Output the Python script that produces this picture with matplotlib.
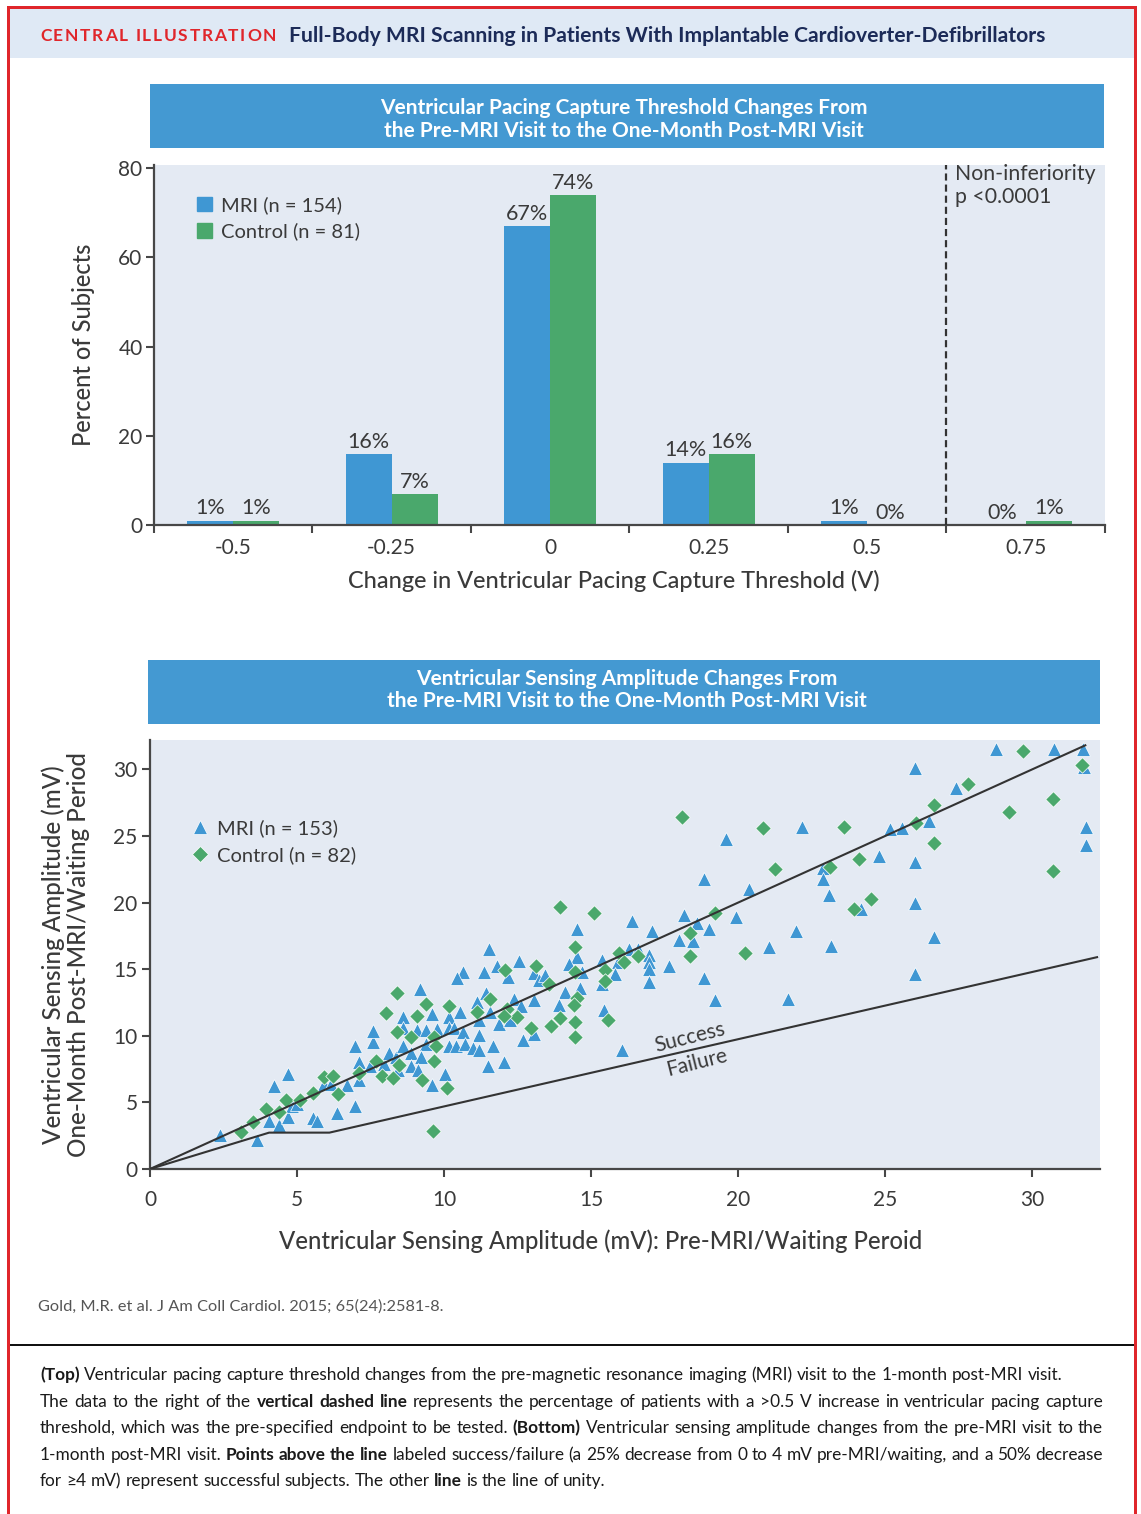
import matplotlib
matplotlib.use("Agg")
import matplotlib.pyplot as plt
import numpy as np
from matplotlib.patches import Rectangle, Patch
from matplotlib.lines import Line2D

plt.rcParams['font.family'] = ['Lato', 'DejaVu Sans']

# ---- data: pacing capture threshold change (percent of subjects)
thr_cats = ['-0.5', '-0.25', '0', '0.25', '0.5', '0.75']
mri_pct = [1, 16, 67, 14, 1, 0]
ctrl_pct = [1, 7, 74, 16, 0, 1]

# ---- data: sensing amplitude (mV), pre-MRI vs one-month post
mri_pre = [2.38, 3.65, 4.06, 4.4, 4.22, 4.7, 4.7, 4.82, 5.0, 5.53, 5.69, 6.37, 6.98, 6.69, 5.92,
           6.14, 7.09, 7.1, 6.98, 7.57, 7.57, 7.48, 7.94, 8.14, 8.37, 8.44, 11.54, 12.56, 11.79,
           11.36, 10.64, 10.43, 12.18, 13.04, 9.18, 11.42, 11.11, 12.36, 12.62, 13.06, 10.54, 9.58,
           8.59, 10.18, 11.56, 11.2, 11.85, 12.24, 8.59, 9.09, 9.39, 9.77, 10.15, 10.35, 10.64,
           11.2, 13.04, 12.67, 8.59, 9.39, 10.18, 10.41, 10.71, 10.98, 11.2, 11.65, 8.88, 9.2,
           8.88, 9.1, 11.48, 12.02, 10.03, 9.58, 14.51, 16.4, 17.06, 17.97, 14.51, 14.23, 15.36,
           15.9, 16.3, 16.6, 16.98, 16.98, 16.98, 16.98, 17.63, 13.21, 13.44, 14.68, 15.82, 15.36,
           14.63, 14.12, 13.92, 15.42, 16.04, 22.16, 19.6, 18.82, 20.35, 18.17, 18.6, 19.92, 19.02,
           18.45, 21.97, 21.05, 18.82, 19.22, 21.68, 28.76, 30.75, 31.72, 31.77, 26.02, 27.41,
           26.5, 25.57, 25.17, 31.81, 31.81, 24.77, 26.02, 22.87, 22.87, 23.1, 24.18, 26.02,
           26.64, 23.15, 26.02]
mri_post = [2.55, 2.15, 3.6, 3.3, 6.25, 7.1, 3.9, 4.7, 4.9, 3.8, 3.6, 4.2, 4.7, 6.3, 6.4,
            6.4, 6.7, 8.0, 9.2, 9.55, 10.35, 7.7, 7.9, 8.7, 8.4, 7.4, 16.5, 15.6, 15.2,
            14.75, 14.75, 14.35, 14.4, 14.7, 13.5, 13.2, 12.5, 12.75, 12.2, 12.7, 11.8, 11.6,
            11.4, 11.4, 11.8, 11.2, 10.9, 11.2, 10.6, 10.4, 10.4, 10.5, 10.55, 10.55, 10.3,
            10.05, 10.1, 9.7, 9.2, 9.4, 9.2, 9.2, 9.4, 9.1, 8.9, 9.2, 8.7, 8.4,
            7.7, 7.4, 7.75, 8.0, 7.1, 6.3, 18.0, 18.6, 17.9, 17.2, 15.9, 15.4, 15.7,
            15.55, 16.55, 16.55, 16.05, 15.55, 15.0, 14.0, 15.2, 14.2, 14.55, 14.75, 14.6, 13.9,
            13.55, 13.3, 12.3, 11.9, 8.9, 25.7, 24.8, 21.8, 21.0, 19.05, 18.5, 18.9, 18.0,
            17.15, 17.9, 16.7, 14.3, 12.7, 12.75, 31.5, 31.5, 31.5, 30.15, 30.1, 28.6,
            26.1, 25.6, 25.5, 25.7, 24.35, 23.5, 23.05, 22.6, 21.8, 20.55, 19.5, 20.0,
            17.4, 16.75, 14.6]
ctrl_pre = [3.09, 3.51, 3.95, 4.38, 4.63, 5.1, 5.53, 6.38, 5.9, 6.21, 7.1, 7.88, 8.25, 7.7,
            8.03, 8.39, 8.39, 9.38, 9.09, 10.17, 8.88, 9.66, 9.72, 11.11, 11.56, 12.07, 12.13,
            12.47, 12.02, 12.94, 13.13, 8.45, 9.66, 9.24, 10.11, 9.63, 13.95, 15.08, 14.46, 15.93,
            16.1, 16.6, 14.46, 15.48, 15.48, 13.55, 14.51, 14.4, 13.95, 13.64, 14.46, 14.46, 15.57,
            18.1, 20.84, 21.26, 19.22, 18.37, 18.37, 20.24, 29.67, 31.68, 27.81, 30.7, 29.22,
            26.67, 26.03, 26.67, 24.1, 30.7, 23.6, 23.13, 24.52, 23.92]
ctrl_post = [2.75, 3.55, 4.5, 4.3, 5.2, 5.2, 5.7, 5.6, 6.9, 7.0, 7.2, 7.0, 6.8, 8.1,
             11.7, 10.3, 13.2, 12.4, 11.5, 12.2, 9.9, 9.9, 9.2, 11.8, 12.75, 14.9, 12.0,
             11.4, 11.45, 10.55, 15.2, 7.8, 8.1, 6.65, 6.1, 2.85, 19.7, 19.25, 16.7, 16.2,
             15.55, 16.0, 14.8, 14.9, 14.1, 13.9, 12.8, 12.3, 11.3, 10.75, 11.05, 9.9, 11.2,
             26.4, 25.6, 22.5, 19.25, 17.75, 16.0, 16.2, 31.4, 30.3, 28.9, 27.8, 26.8,
             27.35, 26.0, 24.45, 23.25, 22.4, 25.65, 22.7, 20.3, 19.5]

# reference lines
unity_x = [0, 31.8]
unity_y = [0, 31.8]
fail_x = [0, 4.05, 6.1, 32.2]
fail_y = [0, 2.73, 2.73, 15.9]

BLUE = '#3f97d3'
GREEN = '#4aa86c'
BANNER = '#4499d2'
PANEL = '#e4eaf3'
SPINE = '#474747'
TXT = '#3a3a3a'

W, H = 1141, 1514
fig = plt.figure(figsize=(W / 100, H / 100), dpi=100)
rend = fig.canvas.get_renderer()


def box(x0, y0, x1, y1):
    return [x0 / W, 1 - y1 / H, (x1 - x0) / W, (y1 - y0) / H]


def rect(x0, y0, x1, y1, color, z=0):
    fig.add_artist(Rectangle((x0 / W, 1 - y1 / H), (x1 - x0) / W, (y1 - y0) / H,
                             transform=fig.transFigure, color=color, zorder=z, lw=0))


def width_of(t):
    return t.get_window_extent(rend).width


def spread(pieces, x0, x1, yc, size, color, min_gap=0.0):
    # pieces: list of (text, bold); spread them so they fill x0..x1 (pixels)
    objs = [fig.text(0, 1 - yc / H, p, fontsize=size, color=color, ha='left', va='center',
                     fontweight='bold' if b else 'normal') for p, b in pieces]
    ws = [width_of(t) for t in objs]
    gap = (x1 - x0 - sum(ws)) / max(len(ws) - 1, 1)
    gap = max(gap, min_gap)
    x = x0
    for t, w in zip(objs, ws):
        t.set_x(x / W)
        x += w + gap


# frame and header
rect(10, 9, 1134, 58, '#dfe9f5')
rect(7, 6, 10, H, '#e0262b', 5)
rect(1134, 6, 1137, H, '#e0262b', 5)
rect(7, 6, 1137, 9, '#e0262b', 5)
rect(10, 1344, 1134, 1346, '#111111', 5)
spread([(c, True) for c in 'CENTRAL ILLUSTRATION'], 40, 276, 36, 12.5, '#e0262b')
fig.text(289 / W, 1 - 36 / H,
         'Full-Body MRI Scanning in Patients With Implantable Cardioverter-Defibrillators',
         color='#1c2b58', fontsize=15.2, fontweight='bold', va='center', ha='left')

# banners
rect(150, 84, 1104, 148, BANNER)
fig.text(624 / W, 1 - 119.5 / H,
         'Ventricular Pacing Capture Threshold Changes From\nthe Pre-MRI Visit to the One-Month Post-MRI Visit',
         color='white', fontsize=15, fontweight='bold', ha='center', va='center', linespacing=1.17)
rect(148, 660, 1100, 724, BANNER)
fig.text(627 / W, 1 - 690 / H,
         'Ventricular Sensing Amplitude Changes From\nthe Pre-MRI Visit to the One-Month Post-MRI Visit',
         color='white', fontsize=15, fontweight='bold', ha='center', va='center', linespacing=1.17)


def style_axes(ax):
    ax.set_facecolor(PANEL)
    for s in ['top', 'right']:
        ax.spines[s].set_visible(False)
    for s in ['left', 'bottom']:
        ax.spines[s].set_color(SPINE)
        ax.spines[s].set_linewidth(1.6)
    ax.tick_params(which='major', direction='out', length=6, width=1.5, color=SPINE,
                   labelsize=15, labelcolor=TXT)


# ---- top: bar chart
ax1 = fig.add_axes(box(153.7, 165, 1105, 525))
style_axes(ax1)
xi = np.arange(len(thr_cats))
bw = 0.29
b1 = ax1.bar(xi - bw / 2, mri_pct, bw, color=BLUE, zorder=2)
b2 = ax1.bar(xi + bw / 2, ctrl_pct, bw, color=GREEN, zorder=2)
for bars, vals in [(b1, mri_pct), (b2, ctrl_pct)]:
    for r, v in zip(bars, vals):
        ax1.annotate(f'{v}%', (r.get_x() + r.get_width() / 2, v), xytext=(0, 1.5),
                     textcoords='offset points', ha='center', va='bottom', fontsize=15.5, color=TXT)
ax1.set_xlim(-0.5, 5.5)
ax1.set_ylim(0, 80.7)
ax1.set_yticks([0, 20, 40, 60, 80])
ax1.tick_params(axis='y', pad=2)
ax1.set_xticks(np.arange(-0.5, 6, 1))
ax1.set_xticklabels([])
ax1.set_xticks(xi, minor=True)
ax1.set_xticklabels(thr_cats, minor=True)
ax1.tick_params(axis='x', which='minor', length=0, pad=9, labelsize=15, labelcolor=TXT)
ax1.axvline(4.5, color='#333333', lw=1.6, ls=(0, (3.2, 1.8)), zorder=3)
ax1.text(4.555, 80.9, 'Non-inferiority\np <0.0001', ha='left', va='top', fontsize=15.3,
         color=TXT, linespacing=1.15)
ax1.text(-0.074, 0.5, 'Percent of Subjects', transform=ax1.transAxes, rotation=90,
         ha='center', va='center', fontsize=17, fontweight='medium', color=TXT)
ax1.text(0.484, -0.156, 'Change in Ventricular Pacing Capture Threshold (V)',
         transform=ax1.transAxes, ha='center', va='center', fontsize=16.9,
         fontweight='medium', color=TXT)
ax1.legend(handles=[Patch(color=BLUE, label='MRI (n = 154)'),
                    Patch(color=GREEN, label='Control (n = 81)')],
           loc='upper left', bbox_to_anchor=(0.046, 0.913), frameon=False, fontsize=14.5,
           handlelength=0.7, handleheight=0.7, handletextpad=0.45, labelspacing=0.42,
           borderaxespad=0, borderpad=0, labelcolor=TXT)

# ---- bottom: scatter
ax2 = fig.add_axes(box(150, 740, 1100, 1169))
style_axes(ax2)
ax2.scatter(mri_pre, mri_post, marker='^', s=100, c=BLUE, edgecolors='white', linewidths=0.5,
            zorder=2)
ax2.scatter(ctrl_pre, ctrl_post, marker='D', s=62, c=GREEN, edgecolors='white', linewidths=0.5,
            zorder=2)
ax2.plot(unity_x, unity_y, color='#333333', lw=1.5, zorder=3)
ax2.plot(fail_x, fail_y, color='#333333', lw=1.5, zorder=3)
ax2.set_xlim(0, 32.3)
ax2.set_ylim(0, 32.2)
ax2.set_xticks([0, 5, 10, 15, 20, 25, 30])
ax2.set_yticks([0, 5, 10, 15, 20, 25, 30])
ax2.tick_params(axis='x', pad=9)
ax2.tick_params(axis='y', pad=3)
ax2.text(18.37, 9.85, 'Success', rotation=14, rotation_mode='anchor', ha='center',
         va='center', fontsize=15, color=TXT)
ax2.text(18.6, 7.95, 'Failure', rotation=14, rotation_mode='anchor', ha='center',
         va='center', fontsize=15, color=TXT)
ax2.text(-0.0884, 0.5, 'Ventricular Sensing Amplitude (mV)\nOne-Month Post-MRI/Waiting Period',
         transform=ax2.transAxes, rotation=90, ha='center', va='center', fontsize=17.4,
         fontweight='medium', color=TXT, linespacing=1.1)
ax2.text(0.474, -0.168, 'Ventricular Sensing Amplitude (mV): Pre-MRI/Waiting Peroid',
         transform=ax2.transAxes, ha='center', va='center', fontsize=17.2,
         fontweight='medium', color=TXT)
ax2.legend(handles=[Line2D([], [], ls='none', marker='^', ms=10, mfc=BLUE, mec='white',
                           mew=0.5, label='MRI (n = 153)'),
                    Line2D([], [], ls='none', marker='D', ms=7.9, mfc=GREEN, mec='white',
                           mew=0.5, label='Control (n = 82)')],
           loc='upper left', bbox_to_anchor=(0.042, 0.815), frameon=False, fontsize=14.5,
           handlelength=1.0, handletextpad=0.35, labelspacing=0.45, borderaxespad=0,
           borderpad=0, labelcolor=TXT)

# ---- citation and caption
fig.text(38 / W, 1 - 1307 / H, 'Gold, M.R. et al. J Am Coll Cardiol. 2015; 65(24):2581-8.',
         fontsize=11.8, color='#555555', ha='left', va='center')

cap_lines = [
    ([("(Top)", True),
      ("Ventricular pacing capture threshold changes from the pre-magnetic resonance imaging (MRI) visit to the 1-month post-MRI visit.", False)], False),
    ([("The data to the right of the", False), ("vertical dashed line", True),
      ("represents the percentage of patients with a >0.5 V increase in ventricular pacing capture", False)], True),
    ([("threshold, which was the pre-specified endpoint to be tested.", False), ("(Bottom)", True),
      ("Ventricular sensing amplitude changes from the pre-MRI visit to the", False)], True),
    ([("1-month post-MRI visit.", False), ("Points above the line", True),
      ("labeled success/failure (a 25% decrease from 0 to 4 mV pre-MRI/waiting, and a 50% decrease", False)], True),
    ([("for \u22654 mV) represent successful subjects. The other", False), ("line", True),
      ("is the line of unity.", False)], False),
]
cap_y = [1375, 1402, 1428, 1455, 1481]
CAP_X0, CAP_X1 = 40, 1103
CAP_SIZE = 12.4

probe1 = fig.text(0, 0, 'a a', fontsize=CAP_SIZE)
probe2 = fig.text(0, 0, 'aa', fontsize=CAP_SIZE)
space_w = width_of(probe1) - width_of(probe2)
probe1.remove()
probe2.remove()

for (segs, justify), yc in zip(cap_lines, cap_y):
    words = []
    for txt, bold in segs:
        for w in txt.split(' '):
            words.append((w, bold))
    if justify:
        spread(words, CAP_X0, CAP_X1, yc, CAP_SIZE, '#1a1a1a', min_gap=0.6 * space_w)
    else:
        objs = [fig.text(0, 1 - yc / H, w, fontsize=CAP_SIZE, color='#1a1a1a', ha='left',
                         va='center', fontweight='bold' if b else 'normal') for w, b in words]
        x = CAP_X0
        for t in objs:
            t.set_x(x / W)
            x += width_of(t) + space_w

fig.savefig('out.png', dpi=100, facecolor='white')
